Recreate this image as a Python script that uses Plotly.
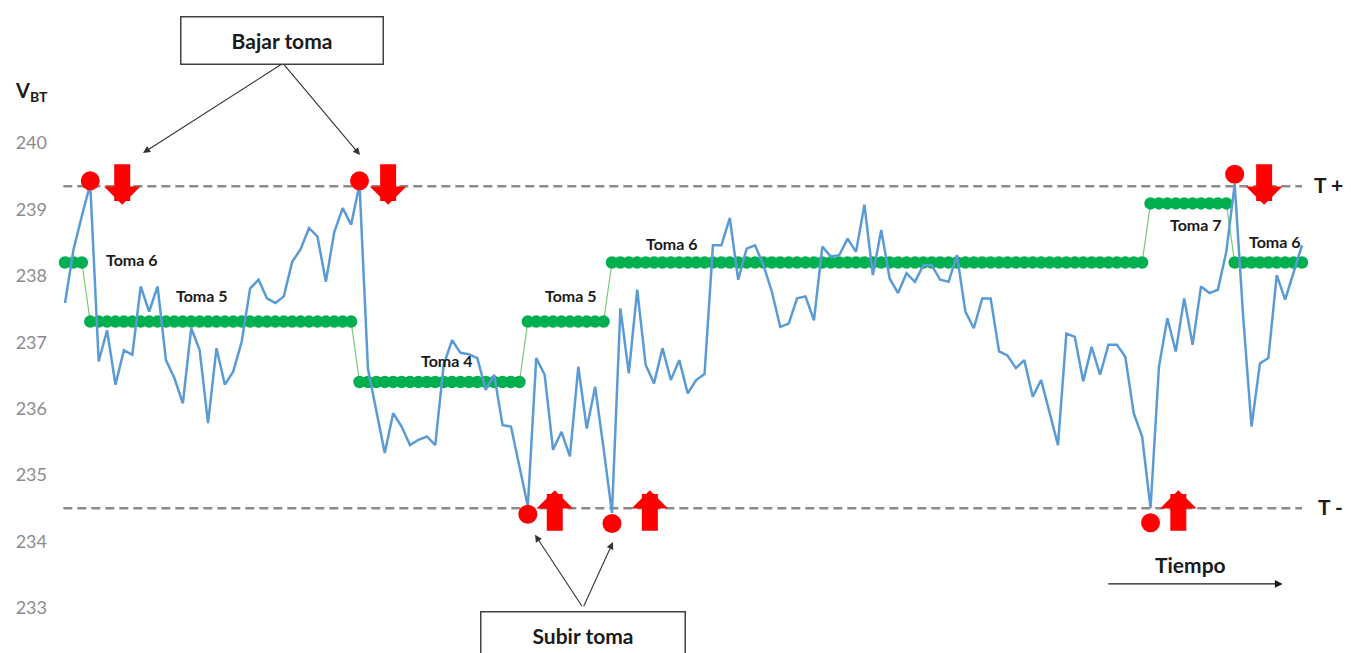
import plotly.graph_objects as go

# ---------------- data ----------------
v_bt = [
    237.59, 238.39, 238.90, 239.38,
    236.71, 237.18, 236.36, 236.88, 236.81, 237.84, 237.46, 237.84, 236.73, 236.46,
    236.08, 237.21, 236.88, 235.78, 236.91, 236.36, 236.56, 237.01, 237.81, 237.94,
    237.66, 237.59, 237.69, 238.21, 238.40, 238.72, 238.59, 237.91, 238.66, 239.02,
    238.77,
    239.38,
    236.60, 235.95, 235.33, 235.93, 235.73, 235.45, 235.53, 235.58, 235.45, 236.66,
    237.03, 236.84, 236.82, 236.76, 236.28, 236.51, 235.75, 235.73, 235.15,
    234.53,
    236.76, 236.51, 235.38, 235.65, 235.28, 236.63, 235.70, 236.33, 235.40,
    234.43,
    237.51, 236.53, 237.79, 236.66, 236.38, 236.91, 236.43, 236.73, 236.23, 236.43,
    236.52, 238.46, 238.46, 238.87, 237.94, 238.41, 238.46, 238.16, 237.76, 237.23,
    237.28, 237.66, 237.69, 237.33, 238.44, 238.29, 238.31, 238.56, 238.36, 239.07,
    238.01, 238.69, 237.96, 237.74, 238.04, 237.91, 238.16, 238.16, 237.94, 237.91,
    238.31, 237.46, 237.21, 237.66, 237.66, 236.86, 236.80, 236.61, 236.73, 236.18,
    236.43, 235.95, 235.45, 237.13, 237.08, 236.41, 236.93, 236.51, 236.96, 236.96,
    236.78, 235.93, 235.58,
    234.50,
    236.63, 237.36, 236.86, 237.66, 236.96, 237.84, 237.74, 237.79, 238.36,
    239.38,
    237.40, 235.73, 236.68, 236.76, 238.01, 237.64, 238.05, 238.46,
]
t_index = list(range(len(v_bt)))

tap_names = ["Toma 6", "Toma 5", "Toma 4", "Toma 5", "Toma 6", "Toma 7", "Toma 6"]
tap_volts = [238.20, 237.31, 236.40, 237.31, 238.20, 239.09, 238.20]
tap_first = [0, 3, 35, 55, 65, 129, 139]

t_plus = 239.35
t_minus = 234.50

event_idx = [3, 35, 55, 65, 129, 139]
event_v = [239.43, 239.43, 234.41, 234.27, 234.28, 239.53]
event_dir = ["down", "down", "up", "up", "up", "down"]

y_ticks = [233, 234, 235, 236, 237, 238, 239, 240]

# tap level per sample
tap_series = []
for i in t_index:
    k = max(j for j, f in enumerate(tap_first) if f <= i)
    tap_series.append(tap_volts[k])

# ---------------- figure ----------------
FONT = "Lato"
BLUE = "#5B9BD5"
GREEN = "#00B050"
RED = "#FF0000"
GREY = "#8C8C8C"

fig = go.Figure()

last = t_index[-1]
for thr in (t_plus, t_minus):
    fig.add_trace(go.Scatter(
        x=[-0.2, last], y=[thr, thr], mode="lines",
        line=dict(color=GREY, width=2.5, dash="9px,5px"),
        hoverinfo="skip", showlegend=False))

fig.add_trace(go.Scatter(
    x=t_index, y=tap_series, mode="lines+markers",
    line=dict(color="#7CC87C", width=1.2),
    marker=dict(color=GREEN, size=12.5, line=dict(width=0)),
    showlegend=False, name="Toma"))

fig.add_trace(go.Scatter(
    x=t_index, y=v_bt, mode="lines",
    line=dict(color=BLUE, width=2.5),
    showlegend=False, name="V_BT"))

fig.add_trace(go.Scatter(
    x=event_idx, y=event_v, mode="markers",
    marker=dict(color=RED, size=19, line=dict(width=0)),
    showlegend=False, name="eventos"))

ann = []

# block arrows (red)
arrow_x = [6.8, 38.4, 58.2, 69.5, 132.3, 142.5]
for ax_, d in zip(arrow_x, event_dir):
    if d == "down":
        tip, off = 239.07, -42
    else:
        tip, off = 234.77, 42
    ann.append(dict(x=ax_, y=tip, xref="x", yref="y", text="", showarrow=True,
                    arrowhead=1, arrowsize=0.38, arrowwidth=16, arrowcolor=RED,
                    ax=0, ay=off, standoff=0))

# toma labels
label_pos = [(7.96, 238.25), (16.3, 237.71), (45.4, 236.73), (60.1, 237.71),
             (72.1, 238.49), (134.4, 238.77), (143.8, 238.52)]
for name, (lx, ly) in zip(tap_names, label_pos):
    ann.append(dict(x=lx, y=ly, xref="x", yref="y", text="<b>%s</b>" % name,
                    showarrow=False, font=dict(family=FONT, size=16, color="#1a1a1a")))

# boxes
ann.append(dict(x=25.8, y=241.55, xref="x", yref="y", text="<b>Bajar toma</b>",
                showarrow=False, width=197, height=42, borderpad=2,
                bordercolor="#404040", borderwidth=1.5, bgcolor="white",
                font=dict(family=FONT, size=21, color="#1a1a1a")))
ann.append(dict(x=61.6, y=232.58, xref="x", yref="y", text="<b>Subir toma</b>",
                showarrow=False, width=199, height=42, borderpad=2,
                bordercolor="#404040", borderwidth=1.5, bgcolor="white",
                font=dict(family=FONT, size=21, color="#1a1a1a")))

# thin pointer arrows
for (hx, hy, tx, ty) in [(9.27, 239.85, 25.9, 241.2), (35.06, 239.82, 25.9, 241.2),
                         (55.85, 234.10, 61.56, 233.0), (65.12, 233.99, 61.56, 233.0)]:
    ann.append(dict(x=hx, y=hy, ax=tx, ay=ty, xref="x", yref="y", axref="x", ayref="y",
                    text="", showarrow=True, arrowhead=2, arrowsize=1.3,
                    arrowwidth=1.1, arrowcolor="#333333", standoff=0))

# Tiempo
ann.append(dict(x=144.7, y=233.36, ax=123.8, ay=233.36, xref="x", yref="y",
                axref="x", ayref="y", text="", showarrow=True, arrowhead=2,
                arrowsize=1.2, arrowwidth=1.3, arrowcolor="#1a1a1a", standoff=0))
ann.append(dict(x=133.8, y=233.65, xref="x", yref="y", text="<b>Tiempo</b>",
                showarrow=False, font=dict(family=FONT, size=21, color="#1a1a1a")))

# thresholds labels
ann.append(dict(x=150.2, y=239.38, xref="x", yref="y", text="<b>T +</b>",
                showarrow=False, font=dict(family=FONT, size=21, color="#1a1a1a")))
ann.append(dict(x=150.4, y=234.53, xref="x", yref="y", text="<b>T -</b>",
                showarrow=False, font=dict(family=FONT, size=21, color="#1a1a1a")))

# axis title
ann.append(dict(x=-0.0123, y=240.77, xref="paper", yref="y", xanchor="center",
                text="<b>V<sub>BT</sub></b>", showarrow=False,
                font=dict(family=FONT, size=20, color="#1a1a1a")))

s = 8.415
fig.update_layout(
    width=1351, height=653,
    margin=dict(l=48, r=0, t=0, b=0),
    paper_bgcolor="white", plot_bgcolor="white",
    xaxis=dict(range=[(48 - 65) / s, (1351 - 65) / s], visible=False, fixedrange=True),
    yaxis=dict(range=[240 - 510 / 66.4, 240 + 143 / 66.4], tickvals=y_ticks,
               showgrid=False, zeroline=False, showline=False, ticks="",
               tickfont=dict(family=FONT, size=18, color="#8C8C8C"), fixedrange=True),
    annotations=ann,
    showlegend=False,
)

fig.write_html("out.html", config={"displayModeBar": False},
               post_script="document.body.style.margin='0';document.body.style.overflow='hidden';")
